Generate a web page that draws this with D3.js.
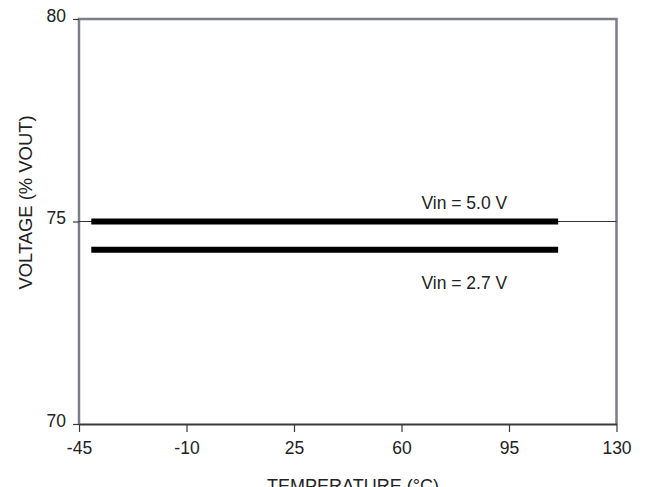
<!DOCTYPE html>
<html><head><meta charset="utf-8">
<script src="https://cdn.jsdelivr.net/npm/d3@7"></script>
<style>body{margin:0;background:#fff}svg{display:block}text{font-family:"Liberation Sans",Arial,sans-serif;fill:#222}</style>
</head><body><div id="c"></div>
<script>
const xTicks = [-45, -10, 25, 60, 95, 130];
const yTicks = [70, 75, 80];
const seriesNames = ["Vin = 5.0 V", "Vin = 2.7 V"];
const tempRange = [-41, 111];
const vin50 = [75.0, 75.0];
const vin27 = [74.3, 74.3];
const gridValue = 75;

const W = 649, H = 487;
const svg = d3.select("#c").append("svg").attr("width", W).attr("height", H);
const x = d3.scaleLinear().domain([-45, 130]).range([79, 616.5]);
const y = d3.scaleLinear().domain([70, 80]).range([424, 19]);
const fmt = d => String(d);

// frame (left, top, right)
svg.append("path")
  .attr("d", `M${x(-45)},${y(70)}V${y(80)}H${x(130)}V${y(70)}`)
  .attr("fill", "none").attr("stroke", "#7b7e86").attr("stroke-width", 2.5);

// gridline at 75
svg.append("line").attr("x1", x(-45)).attr("x2", x(130))
  .attr("y1", y(gridValue)).attr("y2", y(gridValue))
  .attr("stroke", "#333").attr("stroke-width", 1);

// x axis
const xa = svg.append("g").attr("transform", `translate(0,${y(70)})`)
  .call(d3.axisBottom(x).tickValues(xTicks).tickSize(8).tickSizeOuter(0).tickPadding(10).tickFormat(fmt));
xa.select(".domain").attr("stroke", "#3a3a3a").attr("stroke-width", 2);
xa.selectAll(".tick line").attr("stroke", "#3a3a3a").attr("stroke-width", 1.2);
xa.selectAll(".tick text").attr("font-size", 17.5).attr("fill", "#222").attr("font-family", "Liberation Sans, Arial, sans-serif");

// y axis
const ya = svg.append("g").attr("transform", `translate(${x(-45)},0)`)
  .call(d3.axisLeft(y).tickValues(yTicks).tickSize(6).tickSizeOuter(0).tickPadding(7).tickFormat(fmt));
ya.select(".domain").remove();
ya.selectAll(".tick line").attr("stroke", "#3a3a3a").attr("stroke-width", 1.2);
ya.selectAll(".tick text").attr("font-size", 17.5).attr("fill", "#222").attr("dy", "0.12em").attr("font-family", "Liberation Sans, Arial, sans-serif");

// series lines
const line = d3.line().x(d => x(d[0])).y(d => y(d[1]));
[vin50, vin27].forEach(vals => {
  svg.append("path").datum(tempRange.map((t, i) => [t, vals[i]]))
    .attr("d", line).attr("fill", "none").attr("stroke", "#000").attr("stroke-width", 6);
});

// series labels
svg.append("text").attr("x", x(66.5)).attr("y", y(vin50[0]) - 13).attr("font-size", 17.5).text(seriesNames[0]);
svg.append("text").attr("x", x(66.5)).attr("y", y(vin27[0]) + 39).attr("font-size", 17.5).text(seriesNames[1]);

// axis titles
svg.append("text").attr("transform", `translate(32,${y(75) - 19}) rotate(-90)`)
  .attr("text-anchor", "middle").attr("font-size", 18.4).text("VOLTAGE (% VOUT)");
svg.append("text").attr("x", 353).attr("y", 492).attr("text-anchor", "middle")
  .attr("font-size", 18).text("TEMPERATURE  (°C)");
</script></body></html>
